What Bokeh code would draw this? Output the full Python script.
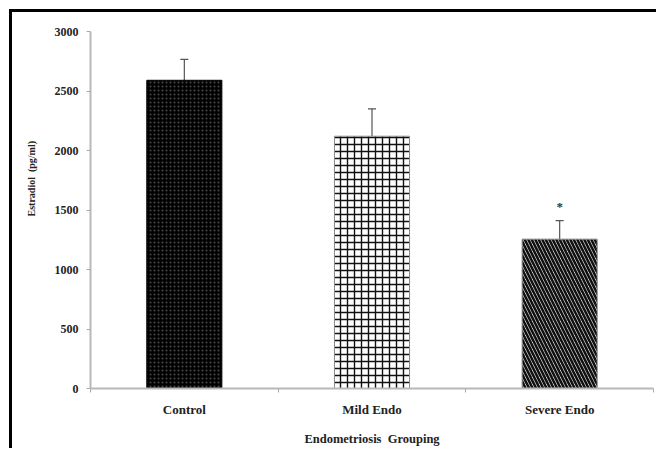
from bokeh.plotting import figure
from bokeh.models import ColumnDataSource, Range1d, FixedTicker, Whisker, TeeHead
from bokeh.core.properties import value
from bokeh.embed import file_html
from bokeh.resources import INLINE

groups = ["Control", "Mild Endo", "Severe Endo"]
means = [2590, 2120, 1255]
errors = [175, 230, 155]
marks = ["", "", "*"]
y_ticks = [0, 500, 1000, 1500, 2000, 2500, 3000]

xpos = [i + 0.5 for i in range(len(groups))]
upper = [m + e for m, e in zip(means, errors)]

FONT = "Liberation Serif"
NB = "\u00a0"

p = figure(width=656, height=448, output_backend="svg", toolbar_location=None,
           x_range=Range1d(0, 3), y_range=Range1d(0, 3000),
           min_border_left=90, min_border_right=3, min_border_top=31, min_border_bottom=51)
p.border_fill_color = None
p.styles = {
    "background": ("linear-gradient(black, black) 9px 9px / 3px 100% no-repeat, "
                   "linear-gradient(black, black) 9px 9px / 100% 3px no-repeat, white"),
}
p.outline_line_color = None
p.xgrid.visible = False
p.ygrid.visible = False
p.background_fill_color = "white"

styles = [
    dict(fill_color="black", line_color="black", hatch_pattern="dot", hatch_color="#4a4a4a",
         hatch_scale=4, hatch_weight=1),
    dict(fill_color="white", line_color="#888888", hatch_pattern="cross", hatch_color="#111111",
         hatch_scale=7, hatch_weight=1.4),
    dict(fill_color="white", line_color="#888888", hatch_pattern="left_diagonal_line", hatch_color="#111111",
         hatch_scale=7, hatch_weight=2.6),
]

src = ColumnDataSource(dict(x=xpos, top=means, upper=upper, mark=marks))

p.add_layout(Whisker(source=src, base="x", lower="top", upper="upper", dimension="height",
                     line_color="#555555", line_width=1.2, lower_head=None,
                     upper_head=TeeHead(size=8, line_color="#555555", line_width=1.2)))

for i in range(len(groups)):
    s = ColumnDataSource(dict(x=[xpos[i]], top=[means[i]]))
    p.vbar(x="x", top="top", bottom=0, width=0.4, source=s, line_width=1, **styles[i])

p.text(x="x", y="upper", text="mark", source=src, text_align="center", text_baseline="bottom",
       y_offset=-7, text_font=value(FONT), text_font_size="13px", text_font_style="bold",
       text_color="#333333")

# x axis
p.xaxis.ticker = FixedTicker(ticks=xpos, minor_ticks=[0, 1, 2, 3])
p.xaxis.major_label_overrides = {x: g for x, g in zip(xpos, groups)}
p.xaxis.major_tick_out = 0
p.xaxis.major_tick_in = 0
p.xaxis.minor_tick_out = 4
p.xaxis.minor_tick_in = 0
p.xaxis.minor_tick_line_color = "#aaaaaa"
p.xaxis.axis_line_color = "#b8b8b8"
p.xaxis.axis_line_width = 2
p.xaxis.major_label_standoff = 9
p.xaxis.major_label_text_font = FONT
p.xaxis.major_label_text_font_style = "bold"
p.xaxis.major_label_text_font_size = "13px"
p.xaxis.major_label_text_color = "#222222"
p.xaxis.axis_label = "Endometriosis" + NB + NB + "Grouping"
p.xaxis.axis_label_text_font = FONT
p.xaxis.axis_label_text_font_style = "bold"
p.xaxis.axis_label_text_font_size = "12.5px"
p.xaxis.axis_label_text_color = "#222222"
p.xaxis.axis_label_standoff = 12

# y axis
p.yaxis.ticker = FixedTicker(ticks=y_ticks)
p.yaxis.major_tick_out = 4
p.yaxis.major_tick_in = 0
p.yaxis.minor_tick_line_color = None
p.yaxis.major_tick_line_color = "#aaaaaa"
p.yaxis.axis_line_color = "#b8b8b8"
p.yaxis.axis_line_width = 2
p.yaxis.major_label_standoff = 8
p.yaxis.major_label_text_font = FONT
p.yaxis.major_label_text_font_style = "bold"
p.yaxis.major_label_text_font_size = "12px"
p.yaxis.major_label_text_color = "#222222"
p.yaxis.axis_label = NB * 25 + "Estradiol" + NB + NB + "(pg/ml)"
p.yaxis.axis_label_text_font = FONT
p.yaxis.axis_label_text_font_style = "bold"
p.yaxis.axis_label_text_font_size = "10px"
p.yaxis.axis_label_text_color = "#222222"
p.yaxis.axis_label_standoff = 15

open("out.html", "w").write(file_html(p, INLINE))
